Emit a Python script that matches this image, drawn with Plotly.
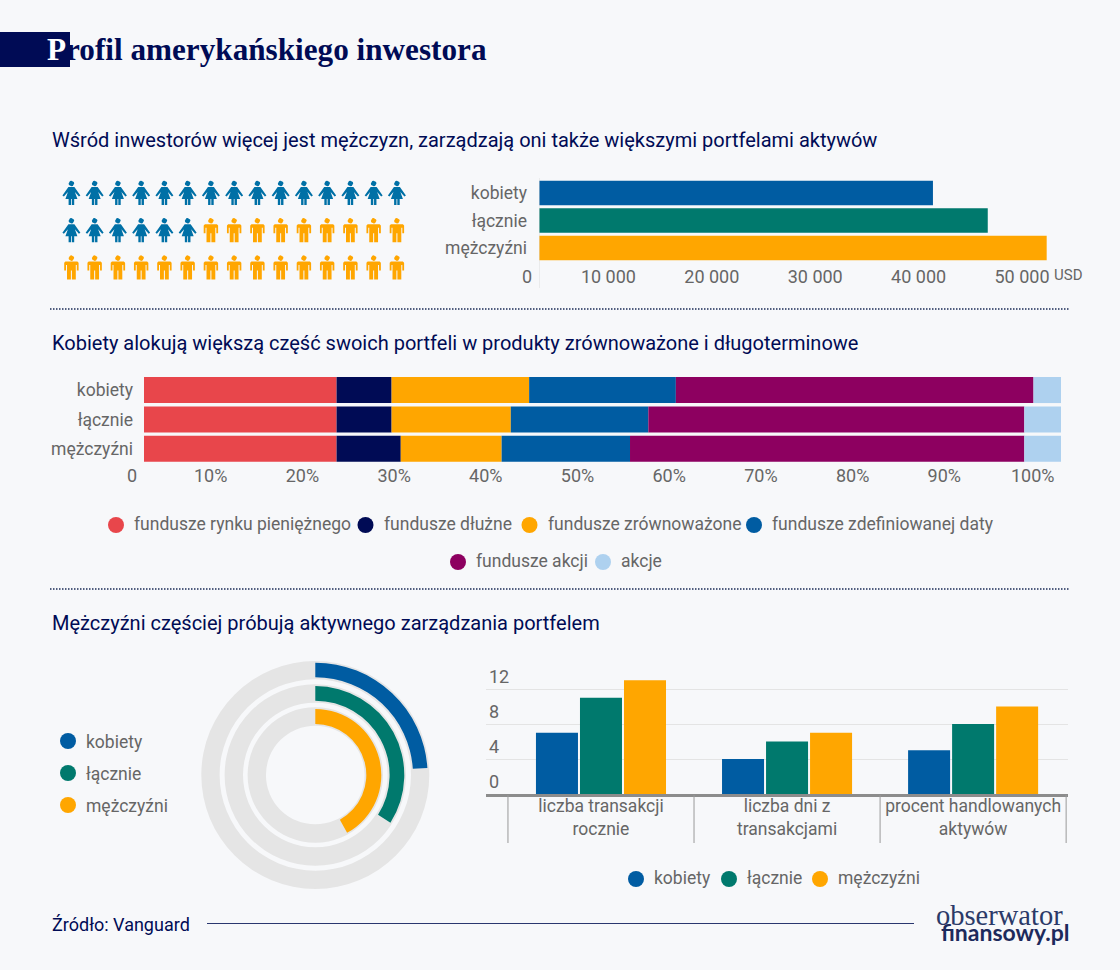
import plotly.graph_objects as go

# ---------- data ----------
groups = ["kobiety", "łącznie", "mężczyźni"]
portfolio_usd = [38100, 43400, 49100]
usd_ticks = [10000, 20000, 30000, 40000, 50000]
usd_tick_labels = ["10 000", "20 000", "30 000", "40 000", "50 000"]

fund_names = ["fundusze rynku pieniężnego", "fundusze dłużne", "fundusze zrównoważone",
              "fundusze zdefiniowanej daty", "fundusze akcji", "akcje"]
fund_money_market = [21, 21, 21]
fund_debt = [6, 6, 7]
fund_balanced = [15, 13, 11]
fund_target_date = [16, 15, 14]
fund_equity = [39, 41, 43]
fund_stocks = [3, 4, 4]
pct_ticks = [10, 20, 30, 40, 50, 60, 70, 80, 90]
pct_tick_labels = ["10%", "20%", "30%", "40%", "50%", "60%", "70%", "80%", "90%"]

active_share = [24, 34, 42]

activity_categories = ["liczba transakcji<br>rocznie", "liczba dni z<br>transakcjami",
                       "procent handlowanych<br>aktywów"]
activity_women = [7, 4, 5]
activity_all = [11, 6, 8]
activity_men = [13, 7, 10]
activity_ticks = [0, 4, 8, 12]

women_count = 21
men_count = 24
icons_per_row = 15

# ---------- styles ----------
W, H = 1120, 970
BG = "#F7F8FA"
NAVY = "#000B55"
BLUE = "#005CA2"
TEAL = "#00796D"
ORANGE = "#FFA600"
RED = "#E8464B"
PURPLE = "#8D0060"
LIGHT = "#AED1EF"
WOMAN = "#0070A6"
GREY = "#666666"
RING = "#E5E5E5"
FONT = "Roboto"
group_colors = [BLUE, TEAL, ORANGE]
fund_colors = [RED, NAVY, ORANGE, BLUE, PURPLE, LIGHT]


def dx(a, b):
    return [a / W, b / W]


def dy(top, bottom):
    return [1 - bottom / H, 1 - top / H]


fig = go.Figure()

# ---------- chart 1 ----------
fig.add_trace(go.Bar(y=groups, x=portfolio_usd, orientation="h", width=24.7 / 27.7,
                     marker=dict(color=group_colors, line_width=0), xaxis="x", yaxis="y",
                     hoverinfo="skip"))

# ---------- chart 2 ----------
fund_series = [fund_money_market, fund_debt, fund_balanced, fund_target_date, fund_equity, fund_stocks]
base = [0, 0, 0]
for name, vals, col in zip(fund_names, fund_series, fund_colors):
    fig.add_trace(go.Bar(y=groups, x=vals, base=list(base), name=name, orientation="h",
                         width=26 / 29.3, marker=dict(color=col, line_width=0),
                         xaxis="x2", yaxis="y2", hoverinfo="skip"))
    base = [b + v for b, v in zip(base, vals)]

# ---------- chart 3 ----------
slot = 44 / 186
for i, (name, vals, col) in enumerate(zip(groups, [activity_women, activity_all, activity_men], group_colors)):
    fig.add_trace(go.Bar(x=activity_categories, y=vals, name=name, width=42 / 186,
                         offset=-65 / 186 + i * slot, marker=dict(color=col, line_width=0),
                         xaxis="x3", yaxis="y3", hoverinfo="skip"))

# ---------- rings ----------
cx, cy = 315.3, 775
ring_sizes = [(114, 95.7, 112.3, 97.7), (90.7, 72.3, 89, 74.3), (67.7, 49.3, 66, 51)]
for share, col, (ro, ri, co, ci) in zip(active_share, group_colors, ring_sizes):
    fig.add_trace(go.Pie(values=[1], marker=dict(colors=[RING], line_width=0), hole=ri / ro, sort=False,
                         textinfo="none", hoverinfo="skip",
                         domain=dict(x=dx(cx - ro, cx + ro), y=dy(cy - ro, cy + ro))))
    fig.add_trace(go.Pie(values=[share, 100 - share], sort=False, direction="clockwise", rotation=0,
                         marker=dict(colors=[col, "rgba(0,0,0,0)"], line_width=0), hole=ci / co,
                         textinfo="none", hoverinfo="skip",
                         domain=dict(x=dx(cx - co, cx + co), y=dy(cy - co, cy + co))))

# ---------- pictogram ----------
HEAD = [(2.8 * a, -9.5 + 2.8 * b) for a, b in
        [(0, -1), (.5, -.87), (.87, -.5), (1, 0), (.87, .5), (.5, .87), (0, 1),
         (-.5, .87), (-.87, .5), (-1, 0), (-.87, -.5), (-.5, -.87)]]
MAN = [(-6, -6), (6, -6), (7.2, -4.8), (7.2, 3), (5.4, 3), (5.4, -2.5), (4.4, -2.5), (4.4, 12), (.5, 12),
       (.5, 3), (-.5, 3), (-.5, 12), (-4.4, 12), (-4.4, -2.5), (-5.4, -2.5), (-5.4, 3), (-7.2, 3), (-7.2, -4.8)]
WOMAN_BODY = [(-3, -6), (3, -6), (9, 2.5), (7.5, 3.5), (3.5, -1), (6, 6), (2.8, 6), (2.8, 12), (.4, 12),
              (.4, 6), (-.4, 6), (-.4, 12), (-2.8, 12), (-2.8, 6), (-6, 6), (-3.5, -1), (-7.5, 3.5), (-9, 2.5)]


def icon_outline(slots, body):
    xs, ys = [], []
    for n in slots:
        px = 71.4 + (n % icons_per_row) * 23.25
        py = 193 + (n // icons_per_row) * 37.3
        for poly in (HEAD, body):
            for a, b in poly + poly[:1]:
                xs.append(px + a)
                ys.append(py + b)
            xs.append(None)
            ys.append(None)
    return xs, ys


for slots, body, col in [(range(women_count), WOMAN_BODY, WOMAN),
                         (range(women_count, women_count + men_count), MAN, ORANGE)]:
    xs, ys = icon_outline(slots, body)
    fig.add_trace(go.Scatter(x=xs, y=ys, mode="lines", fill="toself", fillcolor=col,
                             line=dict(width=0, color=col), xaxis="x4", yaxis="y4", hoverinfo="skip"))


# ---------- hand-placed legends ----------
def legend(items, font_size=17.5, text_dy=-1):
    for (name, col, mx, my) in items:
        fig.add_trace(go.Scatter(x=[mx], y=[my], mode="markers", marker=dict(size=16, color=col),
                                 xaxis="x4", yaxis="y4", hoverinfo="skip"))
        fig.add_annotation(x=mx + 16, y=my + text_dy, text=name, xref="x4", yref="y4", showarrow=False,
                           xanchor="left", yanchor="middle", font=dict(size=font_size, color=GREY, family=FONT))


legend([(fund_names[0], RED, 116, 525), (fund_names[1], NAVY, 365.5, 525),
        (fund_names[2], ORANGE, 529.5, 525), (fund_names[3], BLUE, 754, 525),
        (fund_names[4], PURPLE, 458, 562), (fund_names[5], LIGHT, 603, 562)])
legend([(groups[0], BLUE, 68, 741), (groups[1], TEAL, 68, 773), (groups[2], ORANGE, 68, 805)], text_dy=0.5)
legend([(groups[0], BLUE, 636, 879), (groups[1], TEAL, 729, 879), (groups[2], ORANGE, 820, 879)])


# ---------- free text ----------
def note(x, y, text, size=20, color=NAVY, family=FONT, anchor="left", xref="x4", xshift=0):
    fig.add_annotation(x=x, y=y, text=text, xref=xref, yref="y4", showarrow=False, xanchor=anchor,
                       yanchor="middle", xshift=xshift, font=dict(size=size, color=color, family=family))


note(45, 49, "<b><span style='color:#FFFFFF'>P</span>rofil amerykańskiego inwestora</b>", size=31.2,
     family="Liberation Serif")
note(50, 140, "Wśród inwestorów więcej jest mężczyzn, zarządzają oni także większymi portfelami aktywów")
note(50, 343, "Kobiety alokują większą część swoich portfeli w produkty zrównoważone i długoterminowe")
note(50, 623, "Mężczyźni częściej próbują aktywnego zarządzania portfelem")
note(50, 924, "Źródło: Vanguard", size=18)
note(1052, 275, "USD", size=15, color=GREY)
note(0, 276, "0", size=18, color=GREY, anchor="right", xref="x", xshift=-5)
note(0, 475.5, "0", size=18, color=GREY, anchor="right", xref="x2", xshift=-5)
note(100, 475.5, "100%", size=18, color=GREY, anchor="right", xref="x2", xshift=-4)
note(934, 915, "obserwator", size=28.5, color="#2B3A68", family="Liberation Serif")
note(939, 932, "<b>finansowy.pl</b>", size=23, color="#1D2A5C", family="Lato")

# ---------- layout ----------
tick_font = dict(size=18, color=GREY, family=FONT)
cat_font = dict(size=17.5, color=GREY, family=FONT)
line = dict(type="line", xref="x4", yref="y4")
dotted = dict(color="#1A2A55", width=1.5, dash="1.5px,1.5px")
fig.update_layout(
    width=W, height=H, autosize=False, margin=dict(l=0, r=0, t=0, b=0, pad=0),
    paper_bgcolor=BG, plot_bgcolor="rgba(0,0,0,0)", showlegend=False, barmode="overlay",
    font=dict(family=FONT, color=GREY),
    xaxis=dict(domain=dx(539, 1070), range=[0, 51354], tickmode="array", tickvals=usd_ticks,
               ticktext=usd_tick_labels, tickfont=tick_font, showgrid=False, zeroline=False,
               ticks="", ticklabelshift=-34, ticklabelstandoff=1, anchor="y"),
    yaxis=dict(domain=dy(178, 263), range=[2.55, -0.55], tickfont=cat_font, showgrid=False, zeroline=False,
               ticks="", ticklabelstandoff=11, anchor="x"),
    xaxis2=dict(domain=dx(144, 1061), range=[0, 100], tickmode="array", tickvals=pct_ticks,
                ticktext=pct_tick_labels, tickfont=tick_font, showgrid=False, zeroline=False,
                ticks="", ticklabelshift=-25, ticklabelstandoff=1, anchor="y2"),
    yaxis2=dict(domain=dy(377, 462), range=[2.45, -0.444], tickfont=cat_font, showgrid=False, zeroline=False,
                ticks="", ticklabelstandoff=10, anchor="x2"),
    xaxis3=dict(domain=dx(486, 1068), range=[-0.618, 2.51], type="category", tickfont=cat_font,
                showgrid=False, zeroline=False, showline=True, linecolor="#8C8C8C", linewidth=2.5,
                ticks="", ticklabelstandoff=-6, anchor="y3"),
    yaxis3=dict(domain=dy(663.75, 794), range=[0, 14.886], tickmode="array", tickvals=activity_ticks,
                tickfont=tick_font, gridcolor="#E4E4E4", gridwidth=1, zeroline=False, ticks="",
                ticklabelposition="inside", ticklabelshift=-12, ticklabelstandoff=0, anchor="x3"),
    xaxis4=dict(domain=[0, 1], range=[0, W], visible=False, fixedrange=True, anchor="y4"),
    yaxis4=dict(domain=[0, 1], range=[H, 0], visible=False, fixedrange=True, anchor="x4"),
    shapes=[
        dict(line, x0=0, x1=70, y0=49.5, y1=49.5, line=dict(color=NAVY, width=35), layer="below"),
        dict(line, x0=50, x1=1069, y0=309, y1=309, line=dotted),
        dict(line, x0=50, x1=1069, y0=589, y1=589, line=dotted),
        dict(line, x0=207, x1=914, y0=923.5, y1=923.5, line=dict(color="#2A376F", width=1)),
        dict(type="line", xref="x", yref="y4", x0=0, x1=0, y0=178, y1=288, line=dict(color="#DDDDDD", width=1)),
    ] + [dict(type="line", xref="x3", yref="y4", x0=k - 0.5, x1=k - 0.5, y0=795, y1=843,
              line=dict(color="#999999", width=1)) for k in range(len(activity_categories) + 1)],
)

fig.write_html("out.html", post_script="document.body.style.margin='0';",
               config={"displayModeBar": False})
